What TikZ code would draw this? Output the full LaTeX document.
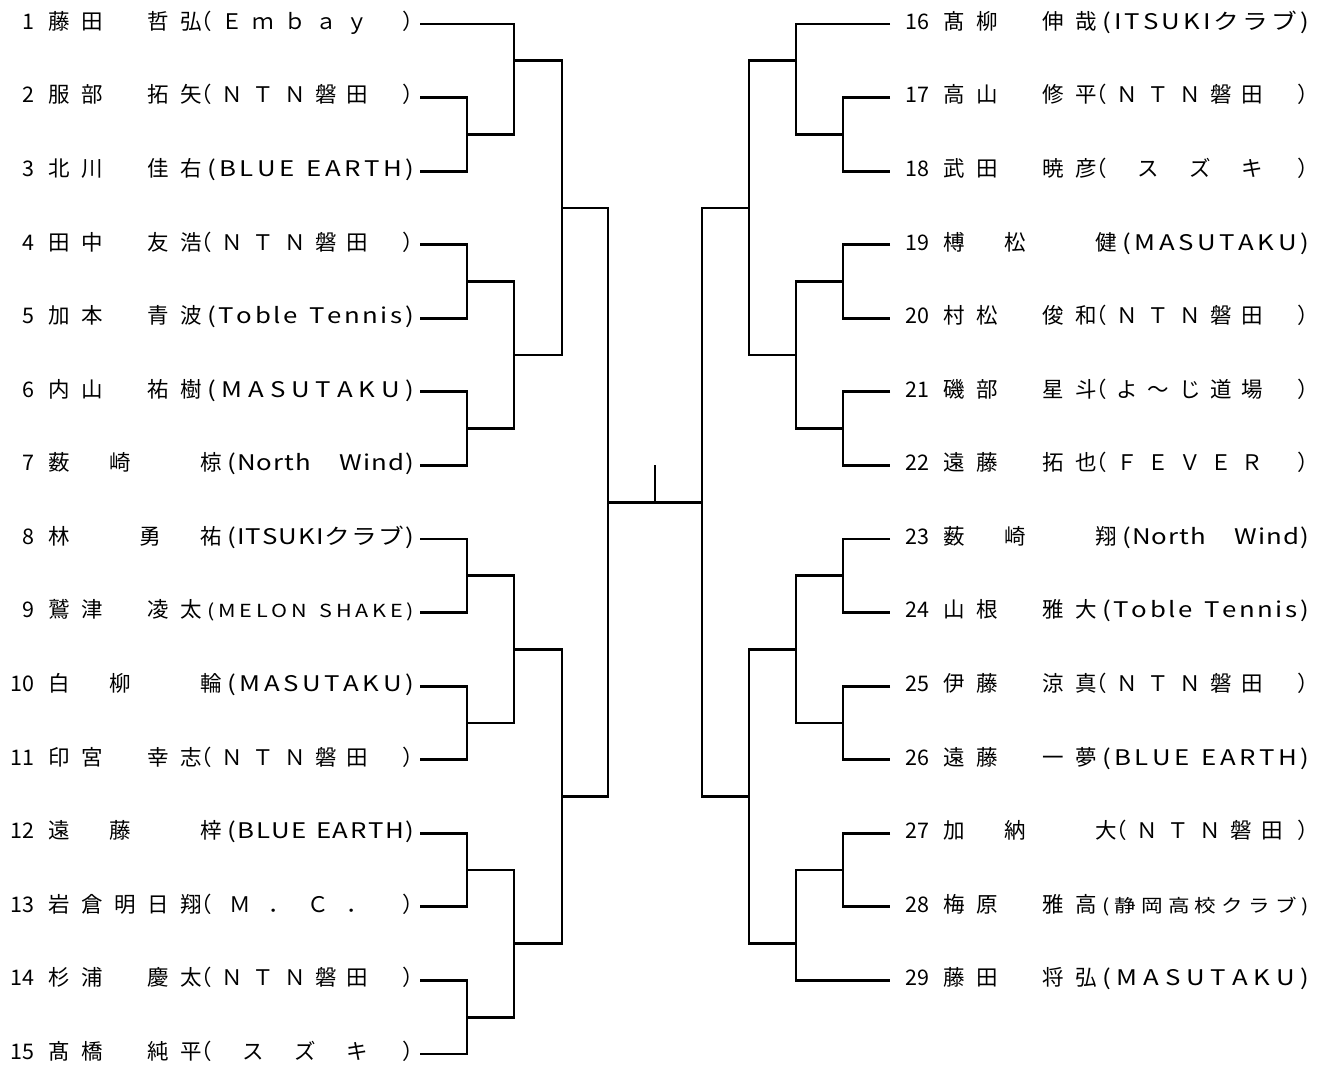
\documentclass[tikz,border=0pt]{standalone}
\usepackage{fontspec}
\setmainfont{Noto Sans CJK JP}
\newfontfamily\widefont[FakeStretch=1.2]{Noto Sans CJK JP}

% spread the characters of #2 evenly over a box of width #1
\makeatletter
\def\spr@ad#1{#1\@ifnextchar\relax{\@gobble}{\hfill\spr@ad}}
\newcommand\spreadtext[2]{\makebox[#1][s]{\expandafter\spr@ad#2\relax}}
\makeatother

% team in half width letters (h) or in full width letters (f):
% name width, team, font size
\newcommand\teamh[3]{\hspace{5pt}%
  {\widefont\fontsize{#3pt}{#3pt}\selectfont\spreadtext{\dimexpr361pt-#1pt\relax}{#2}}}
\newcommand\teamf[3]{\hspace{-12pt}%
  {\fontsize{#3pt}{#3pt}\selectfont\spreadtext{178pt}{#2}%
   \makebox[\dimexpr210pt-#1pt\relax][r]{）}}}

% number, name, name width, team, team font size, team kind
\newcommand\entry[6]{%
  \makebox[34pt][r]{#1}\hspace{14pt}\spreadtext{#3pt}{#2}%
  \csname team#6\endcsname{#3}{#4}{#5}}

\tikzset{
  row/.style={anchor=base west, inner sep=0pt, yshift=-5.4pt,
    font=\fontsize{21.5pt}{26pt}\selectfont},
  bracket/.style={line width=2.8pt},
}

\begin{document}
\begin{tikzpicture}[x=1pt, y=-36.7857pt]
  \useasboundingbox (0,-0.6524) rectangle (1329,28.462);

  % players on the left
  \foreach \pn/\pname/\pw/\pteam/\pfs/\pk in {
      1/藤田　哲弘/154/（Ｅｍｂａｙ/21.5/f,
      2/服部　拓矢/154/（ＮＴＮ磐田/21.5/f,
      3/北川　佳右/154/(BLUE\ EARTH)/21.5/h,
      4/田中　友浩/154/（ＮＴＮ磐田/21.5/f,
      5/加本　青波/154/(Toble\ Tennis)/21.5/h,
      6/内山　祐樹/154/(MASUTAKU)/21.5/h,
      7/薮　崎　　椋/174/(North　Wind)/21.5/h,
      8/林　　勇　祐/174/(ITSUKIクラブ)/21.5/h,
      9/鷲津　凌太/154/(MELON\ SHAKE)/18/h,
      10/白　柳　　輪/174/(MASUTAKU)/21.5/h,
      11/印宮　幸志/154/（ＮＴＮ磐田/21.5/f,
      12/遠　藤　　梓/174/(BLUE\ EARTH)/21.5/h,
      13/岩倉明日翔/154/（Ｍ．Ｃ．/21.5/f,
      14/杉浦　慶太/154/（ＮＴＮ磐田/21.5/f,
      15/髙橋　純平/154/（スズキ/21.5/f} {
    \node[row] (p\pn) at (0,{2*(\pn-1)}) {\entry{\pn}{\pname}{\pw}{\pteam}{\pfs}{\pk}};
    \coordinate (a\pn) at (420,{2*(\pn-1)});
  }

  % players on the right
  \foreach \pn/\pname/\pw/\pteam/\pfs/\pk in {
      16/髙柳　伸哉/154/(ITSUKIクラブ)/21.5/h,
      17/高山　修平/154/（ＮＴＮ磐田/21.5/f,
      18/武田　暁彦/154/（スズキ/21.5/f,
      19/榑　松　　健/174/(MASUTAKU)/21.5/h,
      20/村松　俊和/154/（ＮＴＮ磐田/21.5/f,
      21/磯部　星斗/154/（よ～じ道場/21.5/f,
      22/遠藤　拓也/154/（ＦＥＶＥＲ/21.5/f,
      23/薮　崎　　翔/174/(North　Wind)/21.5/h,
      24/山根　雅大/154/(Toble\ Tennis)/21.5/h,
      25/伊藤　涼真/154/（ＮＴＮ磐田/21.5/f,
      26/遠藤　一夢/154/(BLUE\ EARTH)/21.5/h,
      27/加　納　　大/174/（ＮＴＮ磐田/21.5/f,
      28/梅原　雅高/154/(静岡高校クラブ)/18/h,
      29/藤田　将弘/154/(MASUTAKU)/21.5/h} {
    \node[row] (p\pn) at (895,{2*(\pn-16)}) {\entry{\pn}{\pname}{\pw}{\pteam}{\pfs}{\pk}};
    \coordinate (a\pn) at (890,{2*(\pn-16)});
  }

  % match points, left half
  \foreach \m/\k in {2/3,4/7,6/11,8/15,10/19,12/23,14/27}
    \coordinate (q\m) at (467,\k);
  \coordinate (r1) at (514,1);
  \coordinate (r2) at (514,9);
  \coordinate (r3) at (514,17);
  \coordinate (r4) at (514,25);
  \coordinate (s1) at (562,5);
  \coordinate (s2) at (562,21);
  \coordinate (fL) at (608,13);

  % match points, right half
  \foreach \m/\k in {17/3,19/7,21/11,23/15,25/19,27/23}
    \coordinate (q\m) at (843,\k);
  \coordinate (r5) at (796,1);
  \coordinate (r6) at (796,9);
  \coordinate (r7) at (796,17);
  \coordinate (r8) at (796,25);
  \coordinate (s3) at (749,5);
  \coordinate (s4) at (749,21);
  \coordinate (fR) at (702,13);

  % final
  \coordinate (c) at (655,13);
  \coordinate (top) at (655,12);

  % first round
  \foreach \u/\v in {2/3,4/5,6/7,8/9,10/11,12/13,14/15,17/18,19/20,21/22,23/24,25/26,27/28}
    \draw[bracket] (a\u) -| (q\u) |- (a\v);

  % second round
  \draw[bracket] (a1) -| (r1) |- (q2);
  \draw[bracket] (q4) -| (r2) |- (q6);
  \draw[bracket] (q8) -| (r3) |- (q10);
  \draw[bracket] (q12) -| (r4) |- (q14);
  \draw[bracket] (a16) -| (r5) |- (q17);
  \draw[bracket] (q19) -| (r6) |- (q21);
  \draw[bracket] (q23) -| (r7) |- (q25);
  \draw[bracket] (q27) -| (r8) |- (a29);

  % semi finals
  \draw[bracket] (r1) -| (s1) |- (r2);
  \draw[bracket] (r3) -| (s2) |- (r4);
  \draw[bracket] (r5) -| (s3) |- (r6);
  \draw[bracket] (r7) -| (s4) |- (r8);

  % finals
  \draw[bracket] (s1) -| (fL) |- (s2);
  \draw[bracket] (s3) -| (fR) |- (s4);
  \draw[bracket] (fL) -- (fR);
  \draw[bracket] (c) -- (top);
\end{tikzpicture}
\end{document}
